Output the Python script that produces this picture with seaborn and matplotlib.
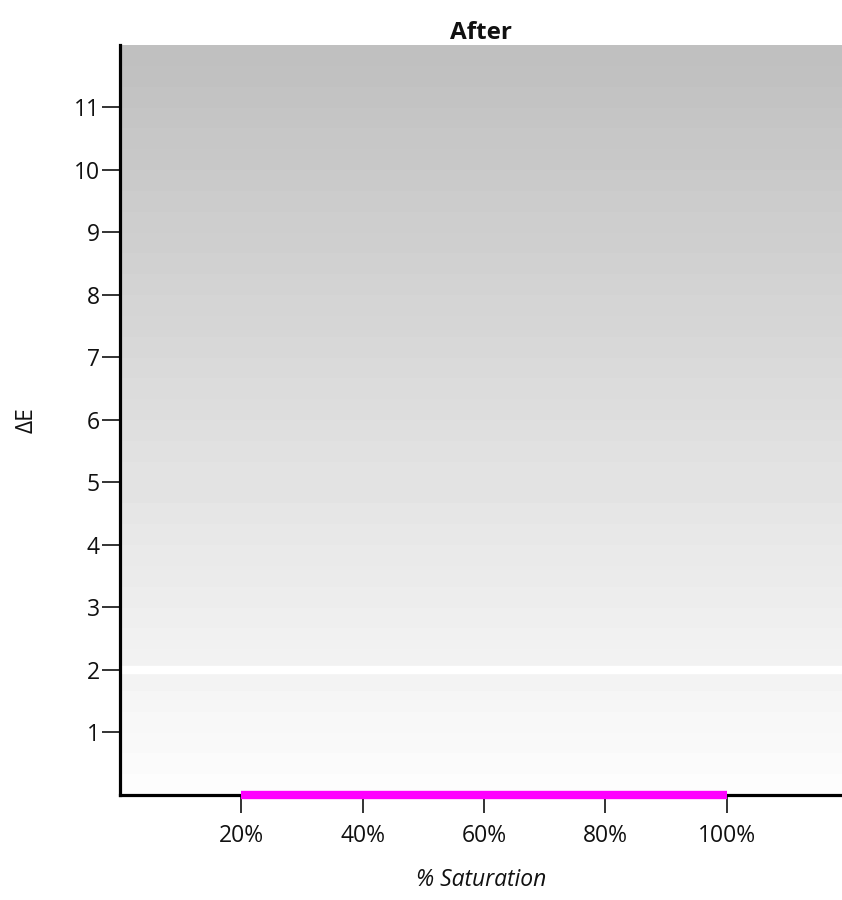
import numpy as np
import pandas as pd
import seaborn as sns
import matplotlib.pyplot as plt
from matplotlib.ticker import FuncFormatter

# data
saturation = [0.2, 0.4, 0.6, 0.8, 1.0]
delta_e = [0.0, 0.0, 0.0, 0.0, 0.0]
threshold = 2
x_ticks = [0.2, 0.4, 0.6, 0.8, 1.0]
y_ticks = [1, 2, 3, 4, 5, 6, 7, 8, 9, 10, 11]

sns.set_theme(style="white")
plt.rcParams['font.family'] = ['Open Sans', 'DejaVu Sans']

fig = plt.figure(figsize=(8.42, 9), dpi=100)
ax = fig.add_axes([0.1425, 0.1167, 0.8575, 0.8333])

# banded grey gradient background (dark at top, light at bottom)
xmax, ymax = 1.19, 12
n_bands = 36
grad = np.linspace(0.99, 0.75, n_bands).reshape(-1, 1)
ax.imshow(grad, cmap='gray', vmin=0, vmax=1, origin='lower', aspect='auto',
          extent=[0, xmax, 0, ymax], interpolation='nearest', zorder=0)

# threshold line
ax.axhline(threshold, color='white', lw=6, zorder=1)

df = pd.DataFrame({"saturation": saturation, "delta_e": delta_e})
sns.lineplot(data=df, x="saturation", y="delta_e", color='#ff00ff', lw=6,
             solid_capstyle='butt', ax=ax, zorder=5, clip_on=False)

ax.set_xlim(0, xmax)
ax.set_ylim(0, ymax)
ax.set_xticks(x_ticks)
ax.set_yticks(y_ticks)
ax.xaxis.set_major_formatter(FuncFormatter(lambda v, p: f"{v * 100:.0f}%"))

for side in ['top', 'right']:
    ax.spines[side].set_visible(False)
for side in ['left', 'bottom']:
    ax.spines[side].set_linewidth(2.3)
    ax.spines[side].set_color('black')
    ax.spines[side].set_zorder(4)

ax.tick_params(axis='both', direction='out', length=13, width=1.2,
               color='#111111', labelsize=16.5, labelcolor='#111111',
               left=True, bottom=True)
ax.tick_params(axis='y', pad=1.5)
ax.tick_params(axis='x', pad=8)

ax.set_title("After", fontsize=17.5, fontweight='bold', pad=4, color='#111111')
ax.set_xlabel("% Saturation", fontsize=16.5, fontstyle='italic', color='#111111')
ax.set_ylabel("ΔE", fontsize=16.5, color='#111111')
ax.xaxis.set_label_coords(0.5, -0.113)
ax.xaxis.label.set_va('center')
ax.yaxis.set_label_coords(-0.129, 0.5)
ax.yaxis.label.set_va('center')

plt.savefig("out.png", dpi=100)
plt.close()
